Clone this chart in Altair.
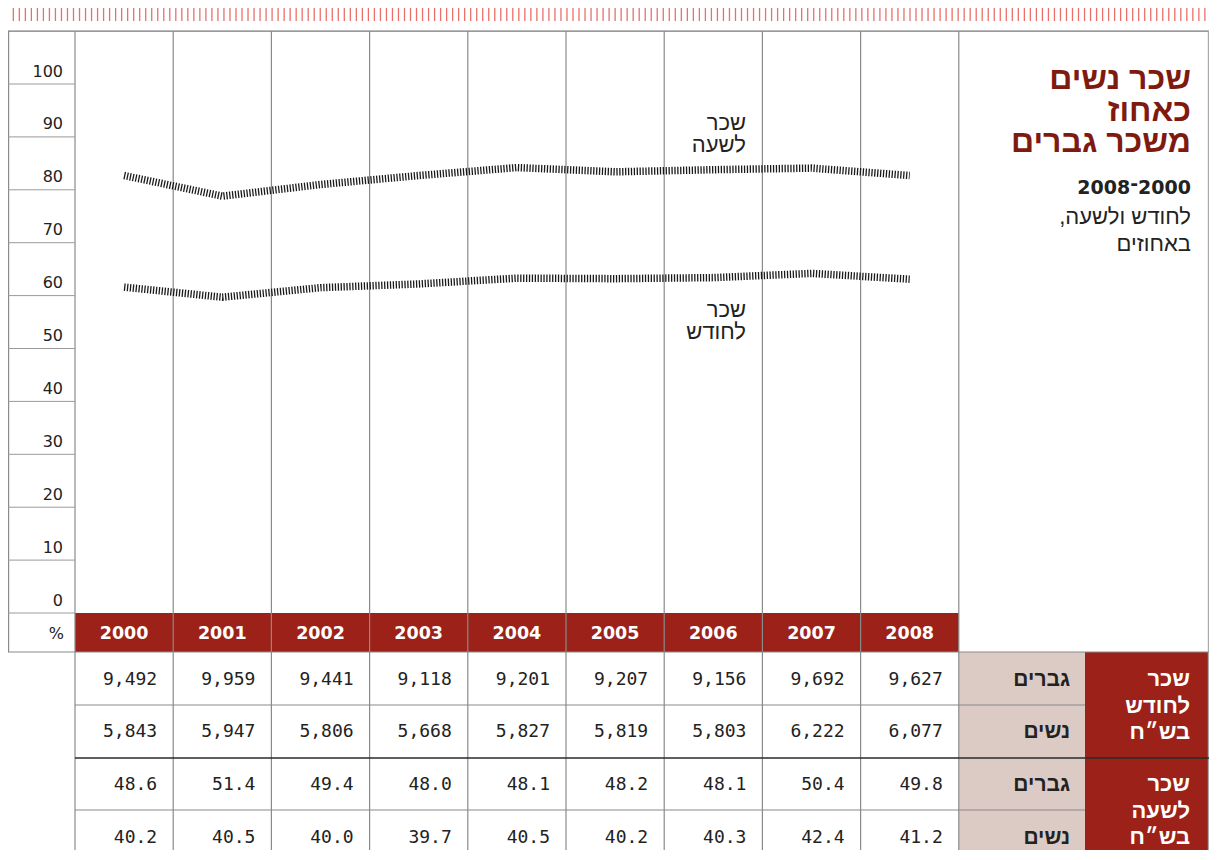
import altair as alt
import pandas as pd

# ---------------- data ----------------
years = [2000, 2001, 2002, 2003, 2004, 2005, 2006, 2007, 2008]
monthly_men = [9492, 9959, 9441, 9118, 9201, 9207, 9156, 9692, 9627]
monthly_women = [5843, 5947, 5806, 5668, 5827, 5819, 5803, 6222, 6077]
hourly_men = [48.6, 51.4, 49.4, 48.0, 48.1, 48.2, 48.1, 50.4, 49.8]
hourly_women = [40.2, 40.5, 40.0, 39.7, 40.5, 40.2, 40.3, 42.4, 41.2]
# women's wage as % of men's
hourly_pct = [82.7, 78.8, 81.0, 82.7, 84.2, 83.4, 83.8, 84.1, 82.7]
monthly_pct = [61.6, 59.7, 61.5, 62.2, 63.3, 63.2, 63.4, 64.2, 63.1]
y_ticks = [0, 10, 20, 30, 40, 50, 60, 70, 80, 90, 100]

title_text = "שכר נשים\nכאחוז\nמשכר גברים"
subtitle_bold = "2008\u200e־\u200e2000"
subtitle_text = "לחודש ולשעה,\u200f\nבאחוזים"
row_labels = ["גברים", "נשים", "גברים", "נשים"]
group_monthly = "שכר\nלחודש\nבש״ח"
group_hourly = "שכר\nלשעה\nבש״ח"
label_hourly = "שכר\nלשעה"
label_monthly = "שכר\nלחודש"

# ---------------- layout helpers (page px -> data units) ----------------
COL0, COLW, ZERO_Y, UNIT = 75.0, 98.2, 613.0, 5.29


def X(px):
    return (px - COL0) / COLW


def Y(py):
    return (ZERO_Y - py) / UNIT


TOP, BOTTOM, LEFT, RIGHT = 31, 850, 8, 1209
XD = [X(LEFT), X(RIGHT)]
YD = [Y(BOTTOM), Y(TOP)]
W = RIGHT - LEFT
H = BOTTOM - TOP

RED = "#9c2219"
DARKRED = "#7e1a10"
PINK = "#dccbc5"
GRID = "#8a8a8a"
INK = "#222222"

xs = alt.Scale(domain=XD, nice=False, zero=False)
ys = alt.Scale(domain=YD, nice=False, zero=False)


def enc_xy(x="x", y="y"):
    return dict(x=alt.X(f"{x}:Q", scale=xs, axis=None),
                y=alt.Y(f"{y}:Q", scale=ys, axis=None))


# ---------------- rectangles ----------------
rects = pd.DataFrame([
    dict(x=0, x2=9, y=0, y2=Y(652), c=RED),
    dict(x=9, x2=X(1085), y=Y(652), y2=Y(BOTTOM), c=PINK),
    dict(x=X(1085), x2=X(RIGHT), y=Y(652), y2=Y(BOTTOM), c=RED),
])
rect_layer = alt.Chart(rects).mark_rect().encode(
    **enc_xy(), x2="x2:Q", y2="y2:Q", color=alt.Color("c:N", scale=None))

# ---------------- rules ----------------
rules = []
# ruler on top
for k in range(200):
    px = 7.3 + k * 6.018
    rules.append(dict(x=X(px), x2=X(px), y=Y(6), y2=Y(21), c="#e8706b", w=1.3))
# frame top
rules.append(dict(x=X(LEFT), x2=X(RIGHT), y=110.0, y2=110.0, c="#777777", w=1.3))
# column lines
for i in range(10):
    rules.append(dict(x=i, x2=i, y=110.0, y2=Y(BOTTOM), c=GRID, w=1.2))
rules.append(dict(x=X(8.6), x2=X(8.6), y=110.0, y2=Y(652), c=GRID, w=1.2))
rules.append(dict(x=X(RIGHT - 0.6), x2=X(RIGHT - 0.6), y=110.0, y2=Y(BOTTOM), c="#aaaaaa", w=1.2))
# y label cell lines
for v in y_ticks:
    rules.append(dict(x=X(LEFT), x2=0, y=v, y2=v, c="#9a9a9a", w=1.0))
# table lines
rules.append(dict(x=X(LEFT), x2=X(RIGHT), y=Y(652), y2=Y(652), c=GRID, w=1.2))
rules.append(dict(x=0, x2=X(1085), y=Y(705), y2=Y(705), c=GRID, w=1.2))
rules.append(dict(x=0, x2=X(1085), y=Y(810), y2=Y(810), c=GRID, w=1.2))
rules.append(dict(x=0, x2=X(RIGHT), y=Y(758), y2=Y(758), c="#2a2a2a", w=1.5))
rule_df = pd.DataFrame(rules)
rule_layer = alt.Chart(rule_df).mark_rule().encode(
    **enc_xy(), x2="x2:Q", y2="y2:Q",
    color=alt.Color("c:N", scale=None),
    strokeWidth=alt.StrokeWidth("w:Q", scale=None))

# ---------------- series lines ----------------
line_rows = []
for i, yr in enumerate(years):
    line_rows.append(dict(x=i + 0.5, y=hourly_pct[i], s="hourly", year=yr))
    line_rows.append(dict(x=i + 0.5, y=monthly_pct[i], s="monthly", year=yr))
line_df = pd.DataFrame(line_rows)
line_layer = alt.Chart(line_df).mark_line(
    strokeWidth=7.5, strokeDash=[1.3, 1.6], color="#1a1a1a", strokeCap="butt"
).encode(**enc_xy(), detail="s:N", order="x:Q")


# ---------------- text ----------------
def text_layer(rows, **kw):
    df = pd.DataFrame(rows)
    return alt.Chart(df).mark_text(lineBreak="\n", **kw).encode(**enc_xy(), text="t:N")


HEB = "Liberation Sans"

ylab = text_layer(
    [dict(x=X(63), y=v + 2.35, t=str(v)) for v in y_ticks]
    + [dict(x=X(64), y=Y(634), t="%")],
    align="right", baseline="middle", font="DejaVu Sans", fontSize=16, color=INK)

year_lab = text_layer(
    [dict(x=i + 0.5, y=Y(634), t=str(yr)) for i, yr in enumerate(years)],
    align="center", baseline="middle", font="DejaVu Sans", fontSize=17.5,
    fontWeight="bold", color="white")

row_y = [Y(680), Y(732), Y(785), Y(838)]
num_rows = []
for i in range(len(years)):
    xr = i + 1 - 16 / COLW
    num_rows.append(dict(x=xr, y=row_y[0], t=f"{monthly_men[i]:,}"))
    num_rows.append(dict(x=xr, y=row_y[1], t=f"{monthly_women[i]:,}"))
    num_rows.append(dict(x=xr, y=row_y[2], t=f"{hourly_men[i]:.1f}"))
    num_rows.append(dict(x=xr, y=row_y[3], t=f"{hourly_women[i]:.1f}"))
nums = text_layer(num_rows, align="right", baseline="middle",
                  font="DejaVu Sans Mono", fontSize=18, color=INK)

pink_lab = text_layer(
    [dict(x=X(1070), y=row_y[k], t=row_labels[k]) for k in range(4)],
    align="right", baseline="middle", font=HEB, fontSize=21, fontWeight="bold", color=INK)

red_lab = text_layer(
    [dict(x=X(1190), y=Y(679), t=group_monthly),
     dict(x=X(1190), y=Y(784), t=group_hourly)],
    align="right", baseline="middle", font=HEB, fontSize=22, fontWeight="bold",
    color="white", lineHeight=26.5)

title = text_layer(
    [dict(x=X(1191), y=Y(79), t=title_text)],
    align="right", baseline="middle", font=HEB, fontSize=32, fontWeight="bold",
    color=DARKRED, lineHeight=31.5)

sub_bold = text_layer(
    [dict(x=X(1191), y=Y(188), t=subtitle_bold)],
    align="right", baseline="middle", font="DejaVu Sans", fontSize=19, fontWeight="bold", color=INK)

sub = text_layer(
    [dict(x=X(1191), y=Y(217), t=subtitle_text)],
    align="right", baseline="middle", font=HEB, fontSize=22, color=INK, lineHeight=27)

series_lab = text_layer(
    [dict(x=X(746), y=Y(123), t=label_hourly),
     dict(x=X(746), y=Y(310), t=label_monthly)],
    align="right", baseline="middle", font=HEB, fontSize=22, color=INK, lineHeight=21.5)

chart = alt.layer(
    rect_layer, rule_layer, line_layer, ylab, year_lab, nums, pink_lab, red_lab,
    title, sub_bold, sub, series_lab
).properties(
    width=W, height=H,
    padding={"left": 0, "top": TOP - 8, "right": 0, "bottom": 0},
    autosize=alt.AutoSizeParams(type="none"),
    background="white",
).configure_view(stroke=None)

chart.save("out.html", embed_options={"renderer": "svg", "actions": False})
